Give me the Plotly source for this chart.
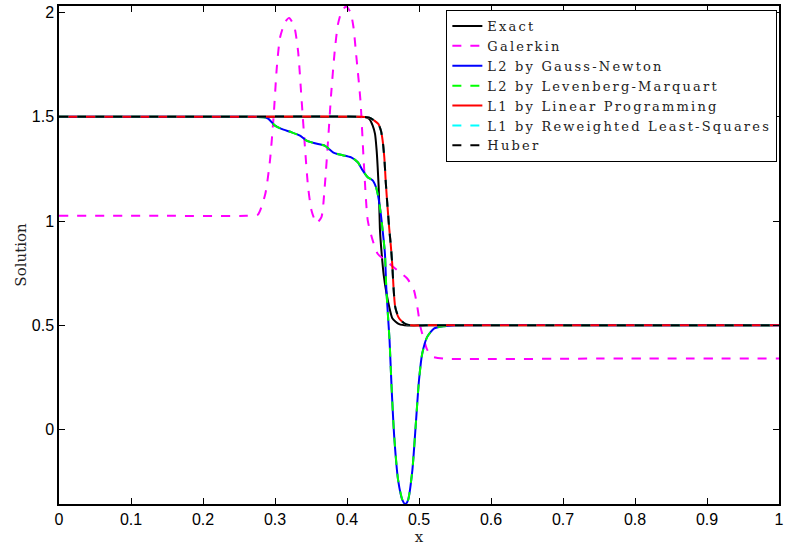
import plotly.graph_objects as go

# ---- data ----
exact_x = [0.0, 0.2, 0.40, 0.425, 0.431, 0.4357, 0.4389, 0.4412, 0.4426, 0.444, 0.4449, 0.4458,
           0.448, 0.451, 0.455, 0.4587, 0.4632, 0.4725, 0.484, 0.50, 0.75, 1.0]
exact_y = [1.5, 1.5, 1.5, 1.499, 1.49, 1.458, 1.418, 1.338, 1.258, 1.162, 1.067, 0.955,
           0.85, 0.74, 0.65, 0.587, 0.532, 0.505, 0.4985, 0.5, 0.5, 0.5]

galerkin_x = [0.0, 0.15, 0.26, 0.276, 0.2865, 0.293, 0.298, 0.3025, 0.307, 0.314, 0.3196, 0.3265,
              0.332, 0.337, 0.3416, 0.346, 0.3507, 0.3576, 0.3645, 0.369, 0.3737, 0.378, 0.383,
              0.3875, 0.393, 0.399, 0.405, 0.409, 0.4127, 0.4187, 0.4235, 0.4288, 0.4357, 0.4426,
              0.4563, 0.47, 0.4839, 0.493, 0.4977, 0.502, 0.5069, 0.511, 0.518, 0.534, 0.75, 1.0]
galerkin_y = [1.025, 1.025, 1.025, 1.03, 1.13, 1.29, 1.498, 1.737, 1.881, 1.955, 1.975, 1.937,
              1.817, 1.578, 1.354, 1.162, 1.051, 0.99, 1.019, 1.162, 1.386, 1.61, 1.817,
              1.945, 2.01, 2.03, 2.0, 1.93, 1.80, 1.578, 1.27, 1.003, 0.907, 0.843,
              0.803, 0.763, 0.723, 0.667, 0.587, 0.492, 0.43, 0.385, 0.35, 0.34, 0.34, 0.34]

gn_x = [0.0, 0.2, 0.27, 0.2865, 0.291, 0.300, 0.309, 0.323, 0.3347, 0.3438, 0.3554, 0.369,
        0.3806, 0.3898, 0.4058, 0.415, 0.422, 0.4288, 0.4357, 0.4403, 0.4435, 0.4463, 0.449,
        0.4527, 0.4545, 0.4573, 0.4591, 0.4619, 0.4656, 0.471, 0.477, 0.481, 0.4848, 0.4908,
        0.4953, 0.500, 0.5045, 0.5114, 0.5207, 0.534, 0.55, 0.75, 1.0]
gn_y = [1.5, 1.5, 1.5, 1.497, 1.49, 1.458, 1.442, 1.426, 1.41, 1.386, 1.373, 1.362,
        1.33, 1.319, 1.306, 1.282, 1.242, 1.21, 1.195, 1.162, 1.115, 1.051, 0.971,
        0.843, 0.683, 0.524, 0.428, 0.204, -0.035, -0.243, -0.339, -0.358, -0.339, -0.195,
        0.0125, 0.236, 0.364, 0.444, 0.484, 0.495, 0.5, 0.5, 0.5]

lm_x = gn_x
lm_y = gn_y

l1lp_x = [0.0, 0.2, 0.42, 0.432, 0.438, 0.4435, 0.4471, 0.4495, 0.4518, 0.454, 0.4563, 0.4587,
          0.4609, 0.4628, 0.4646, 0.467, 0.4725, 0.4816, 0.493, 0.51, 0.75, 1.0]
l1lp_y = [1.5, 1.5, 1.5, 1.495, 1.482, 1.466, 1.434, 1.386, 1.306, 1.179, 1.067, 0.963,
          0.88, 0.795, 0.683, 0.587, 0.532, 0.505, 0.4985, 0.5, 0.5, 0.5]

l1irls_x = l1lp_x
l1irls_y = l1lp_y
huber_x = l1lp_x
huber_y = l1lp_y

series_names = ["Exact", "Galerkin", "L2 by Gauss-Newton", "L2 by Levenberg-Marquart",
                "L1 by Linear Programming", "L1 by Reweighted Least-Squares", "Huber"]

series = [
    (series_names[0], exact_x, exact_y, "black", "solid"),
    (series_names[1], galerkin_x, galerkin_y, "magenta", "dash"),
    (series_names[2], gn_x, gn_y, "blue", "solid"),
    (series_names[3], lm_x, lm_y, "#00ff00", "dash"),
    (series_names[4], l1lp_x, l1lp_y, "red", "solid"),
    (series_names[5], l1irls_x, l1irls_y, "cyan", "dash"),
    (series_names[6], huber_x, huber_y, "black", "dash"),
]

fig = go.Figure()
for name, xs, ys, color, dash in series:
    fig.add_trace(go.Scatter(
        x=xs, y=ys, mode="lines",
        name="<span style='letter-spacing:2.2px'>" + name + "</span>",
        line=dict(color=color, width=2, dash=dash, shape="spline", smoothing=0.6),
    ))

axis_common = dict(
    showgrid=False, zeroline=False, showline=True, linecolor="black", linewidth=1.5,
    mirror="ticks", ticks="inside", ticklen=6, tickcolor="black", tickwidth=1,
    tickfont=dict(family="Liberation Sans, Arial, sans-serif", size=16, color="black"),
)

serif = "DejaVu Serif"

fig.update_layout(
    width=788, height=546,
    margin=dict(l=59, r=4, t=5, b=42),
    paper_bgcolor="white", plot_bgcolor="white",
    showlegend=True,
    legend=dict(
        x=0.538, y=0.992, xanchor="left", yanchor="top",
        bgcolor="white", bordercolor="black", borderwidth=1,
        font=dict(family=serif, size=13, color="#222"),
        tracegroupgap=0, itemwidth=30,
    ),
    xaxis=dict(range=[0, 1], tickvals=[0, 0.1, 0.2, 0.3, 0.4, 0.5, 0.6, 0.7, 0.8, 0.9, 1],
               ticktext=["0", "0.1", "0.2", "0.3", "0.4", "0.5", "0.6", "0.7", "0.8", "0.9", "1"],
               title=dict(text="x", font=dict(family=serif, size=15, color="#222"),
                          standoff=0),
               **axis_common),
    yaxis=dict(range=[-0.358, 2.032], tickvals=[0, 0.5, 1, 1.5, 2],
               ticktext=["0", "0.5", "1", "1.5", "2"],
               title=dict(text="Solution", font=dict(family=serif, size=15, color="#222"),
                          standoff=2),
               **axis_common),
)

fig.write_html("out.html")
